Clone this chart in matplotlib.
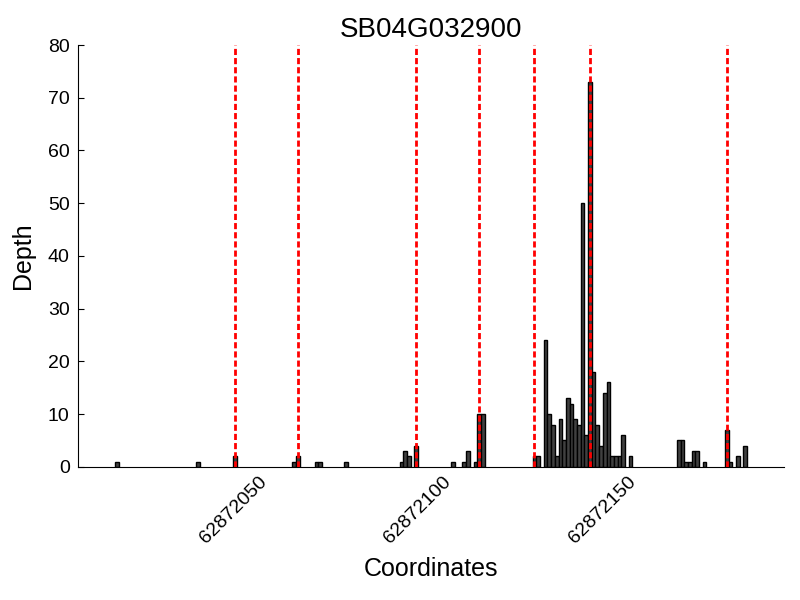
import matplotlib
matplotlib.use("Agg")
import matplotlib.pyplot as plt

plt.rcParams["font.family"] = ["Liberation Sans", "DejaVu Sans"]

gene = "SB04G032900"

# read depth per coordinate (zero-depth positions omitted)
coords = [62872018, 62872040, 62872050, 62872066, 62872067, 62872072, 62872073,
          62872080, 62872095, 62872096, 62872097, 62872099, 62872109, 62872112,
          62872113, 62872115, 62872116, 62872117, 62872131, 62872132, 62872134,
          62872135, 62872136, 62872137, 62872138, 62872139, 62872140, 62872141,
          62872142, 62872143, 62872144, 62872145, 62872146, 62872147, 62872148,
          62872149, 62872150, 62872151, 62872152, 62872153, 62872154, 62872155,
          62872157, 62872170, 62872171, 62872172, 62872173, 62872174, 62872175,
          62872177, 62872183, 62872184, 62872186, 62872188]
depth = [1, 1, 2, 1, 2, 1, 1,
         1, 1, 3, 2, 4, 1, 1,
         3, 1, 10, 10, 2, 2, 24,
         10, 8, 2, 9, 5, 13, 12,
         9, 8, 50, 6, 73, 18, 8,
         4, 14, 16, 2, 2, 2, 6,
         2, 5, 5, 1, 1, 3, 3,
         1, 7, 1, 2, 4]

# marked sites (red dashed lines)
sites = [62872050, 62872067, 62872099, 62872116, 62872131, 62872146, 62872183]

xticks = [62872050, 62872100, 62872150]

fig = plt.figure(figsize=(8, 6), dpi=100)
ax = fig.add_axes([0.0975, 0.222, 0.8825, 0.703])

ax.bar(coords, depth, width=1, align="edge", color="#404040",
       edgecolor="black", linewidth=1, zorder=2)
for s in sites:
    ax.axvline(s + 0.5, color="red", lw=2, ls="--", dashes=(2.2, 1.1), zorder=3)

ax.set_xlim(min(coords) - 10, max(coords) + 11)
ax.set_ylim(0, 80)
ax.set_yticks(range(0, 81, 10))
ax.set_xticks(xticks)
ax.set_xticklabels([str(x) for x in xticks], rotation=45, ha="center")
ax.tick_params(axis="x", length=0, labelsize=14, pad=5)
ax.tick_params(axis="y", direction="in", length=4, labelsize=14, pad=6, right=False)

for side in ("top", "right"):
    ax.spines[side].set_visible(False)

ax.set_title(gene, fontsize=20, pad=6)
ax.set_xlabel("Coordinates", fontsize=18, labelpad=7)
ax.set_ylabel("Depth", fontsize=18, labelpad=9)

fig.savefig("out.png", dpi=100)
